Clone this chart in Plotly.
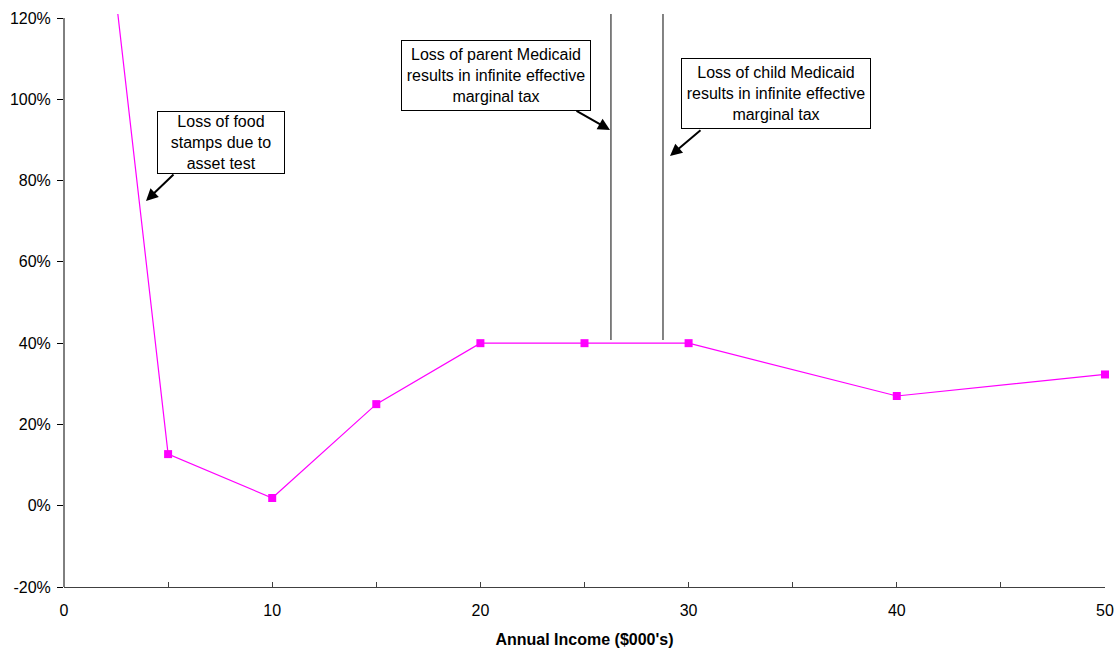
import plotly.graph_objects as go

income = [0, 5, 10, 15, 20, 25, 30, 40, 50]
emtr = [237, 12.7, 1.9, 25.0, 40.0, 40.0, 40.0, 27.0, 32.3]

parent_medicaid_x = [26.27, 26.27]
child_medicaid_x = [28.77, 28.77]
cliff_y = [40.8, 121]

x_ticks = [0, 5, 10, 15, 20, 25, 30, 35, 40, 45, 50]
x_ticktext = ["0", "", "10", "", "20", "", "30", "", "40", "", "50"]
y_ticks = [-20, 0, 20, 40, 60, 80, 100, 120]
y_ticktext = ["-20%", "0%", "20%", "40%", "60%", "80%", "100%", "120%"]

FONT = "Liberation Sans, Arial, sans-serif"

W, H = 1115, 650
PL, PR, PT, PB = 64, 1105, 14, 587

fig = go.Figure()
fig.add_trace(go.Scatter(x=income, y=emtr, mode="lines+markers",
                         line=dict(color="#FF00FF", width=1.2),
                         marker=dict(symbol="square", size=8, color="#FF00FF"),
                         cliponaxis=False, showlegend=False))
for xs in (parent_medicaid_x, child_medicaid_x):
    fig.add_trace(go.Scatter(x=xs, y=cliff_y, mode="lines",
                             line=dict(color="#404040", width=1.3),
                             showlegend=False))

# y-axis line (stops at 120%)
fig.add_shape(type="line", xref="paper", yref="y", x0=0, x1=0, y0=-20, y1=120,
              line=dict(color="#000000", width=1))


def px_to_x(px):
    return (px - PL) / (PR - PL) * 50


def px_to_y(py):
    return -20 + (PB - py) / (PB - PT) * 141


box = dict(bordercolor="#000000", borderwidth=1, bgcolor="#FFFFFF",
           font=dict(family=FONT, size=16, color="#000000"), showarrow=False,
           borderpad=0, align="center", valign="middle", xref="x", yref="y")
# (text, left, top, right, bottom) of each box in pixels
labels = [
    ("Loss of food<br>stamps due to<br>asset test", 157, 111, 285, 174),
    ("Loss of parent Medicaid<br>results in infinite effective<br>marginal tax", 401, 40, 591, 111),
    ("Loss of child Medicaid<br>results in infinite effective<br>marginal tax", 681, 58, 871, 129),
]
for txt, x0, y0, x1, y1 in labels:
    fig.add_annotation(text=txt, x=px_to_x((x0 + x1) / 2), y=px_to_y((y0 + y1) / 2),
                       width=x1 - x0 - 2, height=y1 - y0 - 2, **box)

arrows = [((175, 173), (146, 201)), ((575, 110), (610, 130)), ((702, 129), (670, 156))]
for (tx, ty), (hx, hy) in arrows:
    fig.add_annotation(x=px_to_x(hx), y=px_to_y(hy), xref="x", yref="y",
                       ax=px_to_x(tx), ay=px_to_y(ty), axref="x", ayref="y",
                       text="", showarrow=True, arrowhead=2, arrowsize=1.2,
                       arrowwidth=2, arrowcolor="#000000")

fig.update_layout(
    width=W, height=H,
    margin=dict(l=PL, r=W - PR, t=PT, b=H - PB, autoexpand=False),
    paper_bgcolor="#FFFFFF", plot_bgcolor="#FFFFFF",
    font=dict(family=FONT, size=16, color="#000000"),
    xaxis=dict(range=[0, 50], tickvals=x_ticks, ticktext=x_ticktext,
               ticks="inside", ticklen=5, tickcolor="#404040", tickwidth=1,
               ticklabelstandoff=9,
               showline=True, linecolor="#404040", linewidth=1.3,
               showgrid=False, zeroline=False,
               title=dict(text="<b>Annual Income ($000's)</b>", font=dict(size=16), standoff=15)),
    yaxis=dict(range=[-20, 121], tickvals=y_ticks, ticktext=y_ticktext,
               ticks="outside", ticklen=6, tickcolor="#000000",
               ticklabelstandoff=3,
               showline=False, showgrid=False, zeroline=False),
)

fig.write_html("out.html", config={"displayModeBar": False},
               post_script="document.body.style.margin='0';")
